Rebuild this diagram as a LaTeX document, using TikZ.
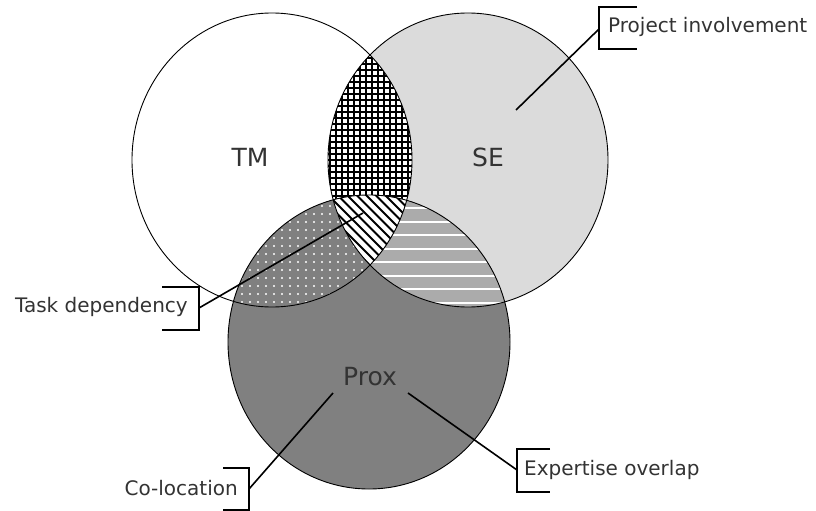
\documentclass[tikz,border=0pt]{standalone}
\usepackage{fontspec}
\setmainfont{DejaVu Sans}
\begin{document}
\begin{tikzpicture}[x=1pt,y=-1pt,
  outline/.style={draw=black,line width=0.9pt},
  leader/.style={draw=black,line width=1.6pt},
  bracket/.style={draw=black,line width=1.1pt},
  callout/.style={font=\fontsize{20}{23}\selectfont,text=black!80,inner sep=0pt},
  setname/.style={font=\fontsize{25}{30}\selectfont,text=black!80,inner sep=0pt},
  hatch/.style={line width=1.8pt,draw=black},
  gridline/.style={line width=1.3pt,draw=black}]
\useasboundingbox (0,0) rectangle (816,511);

% centres of the three sets
\coordinate (tm) at (272,160);
\coordinate (se) at (468,160);
\coordinate (px) at (369,342);
\def\vennTM{(tm) ellipse [x radius=140pt, y radius=147pt]}
\def\vennSE{(se) ellipse [x radius=140pt, y radius=147pt]}
\def\vennPX{(px) ellipse [x radius=141pt, y radius=147pt]}

% single-set areas
\fill[black!14] \vennSE;
\fill[white] \vennTM;

% TM and SE: square grid
\begin{scope}
  \clip \vennTM; \clip \vennSE;
  \fill[white] (300,0) rectangle (440,320);
  \foreach \i in {0,...,20} \draw[gridline] ({318+6*\i},0) -- ({318+6*\i},320);
  \foreach \j in {0,...,50} \draw[gridline] (300,{10+6*\j}) -- (440,{10+6*\j});
\end{scope}

% proximity set
\fill[black!50] \vennPX;

% TM and Prox: white dots
\begin{scope}
  \clip \vennPX; \clip \vennTM;
  \foreach \i in {0,...,25}
    \foreach \j in {0,...,16}
      \fill[white] ({226+8*\i},{198+8*\j}) circle (1.1pt);
\end{scope}

% SE and Prox: white horizontal stripes
\begin{scope}
  \clip \vennPX; \clip \vennSE;
  \fill[black!33] (320,180) rectangle (520,320);
  \foreach \k in {-3,...,7} \draw[white,line width=2pt] (320,{221.5+13.5*\k}) -- (520,{221.5+13.5*\k});
\end{scope}

% all three: diagonal hatching
\begin{scope}
  \clip \vennPX; \clip \vennTM; \clip \vennSE;
  \fill[white] (320,180) rectangle (420,280);
  \foreach \k in {0,...,30} \draw[hatch] ({180+9.5*\k},180) -- ({300+9.5*\k},300);
\end{scope}

% outlines
\draw[outline] \vennTM;
\draw[outline] \vennSE;
\draw[outline] \vennPX;

% set names
\node[setname] (tmlabel) at (250,157) {TM};
\node[setname] (selabel) at (488,157) {SE};
\node[setname] (pxlabel) at (370,377) {Prox};

% callouts
\node[callout,anchor=west] (pi) at (608,27) {Project involvement};
\draw[bracket] (637,7) -- (599,7) -- (599,49) -- (637,49);
\coordinate (pib) at (599,29);
\coordinate (pit) at (516,110);
\draw[leader] (pib) -- (pit);

\node[callout,anchor=east] (td) at (188,307) {Task dependency};
\draw[bracket] (162,287) -- (199,287) -- (199,330) -- (162,330);
\coordinate (tdb) at (199,308);
\coordinate (tdt) at (363,213);
\draw[leader] (tdb) -- (tdt);

\node[callout,anchor=east] (co) at (238,488) {Co-location};
\draw[bracket] (223,468) -- (249,468) -- (249,510) -- (223,510);
\coordinate (cob) at (249,489);
\coordinate (cot) at (333,393);
\draw[leader] (cob) -- (cot);

\node[callout,anchor=west] (eo) at (524,470) {Expertise overlap};
\draw[bracket] (550,449) -- (517,449) -- (517,492) -- (550,492);
\coordinate (eob) at (517,470);
\coordinate (eot) at (408,393);
\draw[leader] (eob) -- (eot);
\end{tikzpicture}
\end{document}
